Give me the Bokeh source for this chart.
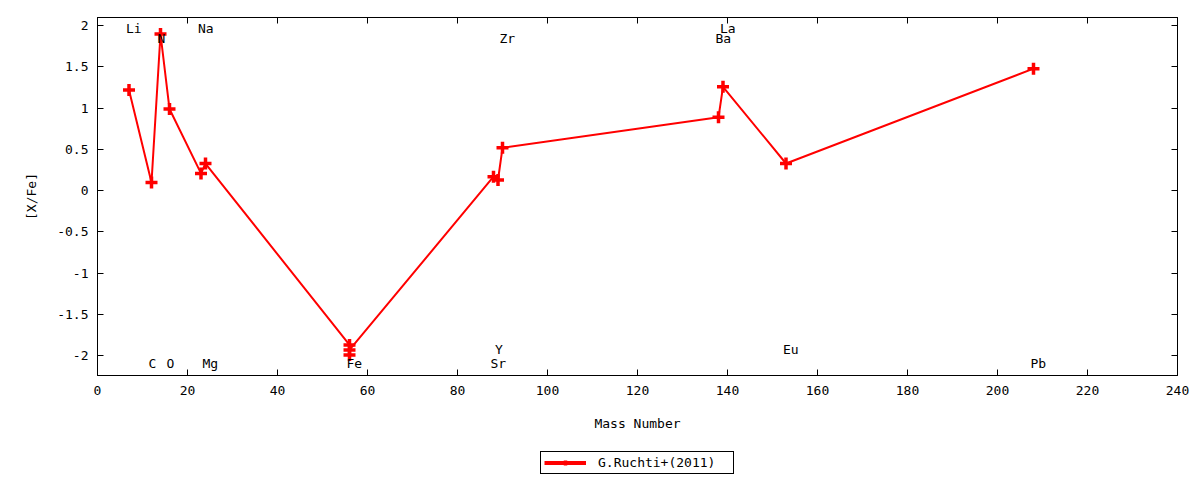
from bokeh.core.properties import value
from bokeh.embed import file_html
from bokeh.layouts import column
from bokeh.models import (
    ColumnDataSource,
    CustomJSTickFormatter,
    FixedTicker,
    Legend,
    LegendItem,
    LinearAxis,
    Range1d,
)
from bokeh.plotting import figure
from bokeh.resources import INLINE

MONO = "DejaVu Sans Mono"

# G.Ruchti+(2011) abundances, [X/Fe] against mass number
mass = [7, 12, 14, 16, 23, 24, 56, 56, 56, 88, 89, 90, 138, 139, 153, 208]
xfe = [1.22, 0.10, 1.90, 0.99, 0.21, 0.33, -1.87, -1.99, -1.93,
       0.17, 0.13, 0.52, 0.89, 1.26, 0.33, 1.48]

# element labels
elem = ["Li", "C", "N", "O", "Na", "Mg", "Fe", "Sr", "Y", "Zr", "Ba", "La", "Eu", "Pb"]
elem_x = [7, 12, 14, 16, 23, 24, 56, 88, 89, 90, 138, 139, 153, 208]
elem_y = [1.97, -2.1, 1.85, -2.1, 1.97, -2.1, -2.1, -2.1, -1.93, 1.84, 1.85, 1.97, -1.93, -2.1]

x_ticks = [0, 20, 40, 60, 80, 100, 120, 140, 160, 180, 200, 220, 240]
y_ticks = [-2, -1.5, -1, -0.5, 0, 0.5, 1, 1.5, 2]

SERIES = "G.Ruchti+(2011)"
LINE = dict(line_color="red", line_width=2)
MARK = dict(marker="cross", size=12, line_color="red", line_width=3.5)

p = figure(width=1200, height=440,
           x_range=Range1d(0, 240), y_range=Range1d(-2.24, 2.1),
           output_backend="svg", toolbar_location=None,
           min_border_left=97, min_border_right=23,
           min_border_top=17, min_border_bottom=65)
p.grid.visible = False
p.outline_line_color = "black"
p.outline_line_alpha = 1.0

label_fmt = CustomJSTickFormatter(code="return String(tick);")
blank_fmt = CustomJSTickFormatter(code="return '';")


def style_axis(ax, ticks, fmt):
    ax.ticker = FixedTicker(ticks=ticks)
    ax.formatter = fmt
    ax.major_tick_in = 6
    ax.major_tick_out = 0
    ax.minor_tick_in = 0
    ax.minor_tick_out = 0
    ax.axis_line_color = "black"
    ax.major_tick_line_color = "black"
    ax.major_label_text_font = MONO
    ax.major_label_text_font_size = "13px"
    ax.major_label_text_color = "black"
    ax.axis_label_text_font = MONO
    ax.axis_label_text_font_size = "13px"
    ax.axis_label_text_font_style = "normal"
    ax.axis_label_text_color = "black"


style_axis(p.xaxis[0], x_ticks, label_fmt)
p.xaxis.axis_label = "Mass Number"
p.xaxis.major_label_standoff = 10
p.xaxis.axis_label_standoff = 18

style_axis(p.yaxis[0], y_ticks, label_fmt)
p.yaxis.axis_label = "[X/Fe]"
p.yaxis.major_label_standoff = 9
p.yaxis.axis_label_standoff = 15

top = LinearAxis()
style_axis(top, x_ticks, blank_fmt)
p.add_layout(top, "above")
right = LinearAxis()
style_axis(right, y_ticks, blank_fmt)
p.add_layout(right, "right")

src = ColumnDataSource(dict(x=mass, y=xfe))
p.line("x", "y", source=src, **LINE)
p.scatter("x", "y", source=src, **MARK)

lab = ColumnDataSource(dict(x=elem_x, y=elem_y, t=elem))
p.text("x", "y", text="t", source=lab, x_offset=-3,
       text_font=value(MONO), text_font_size="13px", text_color="black",
       text_align="left", text_baseline="middle")

# legend strip below the chart (key only, the series sits out of view)
leg = figure(width=1200, height=40,
             x_range=Range1d(0, 240), y_range=Range1d(10, 11),
             output_backend="svg", toolbar_location=None,
             x_axis_location=None, y_axis_location=None,
             min_border_left=97, min_border_right=23,
             min_border_top=0, min_border_bottom=0)
leg.grid.visible = False
leg.outline_line_color = None
ln = leg.line("x", "y", source=src, line_color="red", line_width=4)
sc = leg.scatter("x", "y", source=src, **MARK)

legend = Legend(items=[LegendItem(label=SERIES, renderers=[ln, sc])],
                location="bottom", orientation="horizontal")
legend.label_text_font = MONO
legend.label_text_font_size = "13px"
legend.label_text_color = "black"
legend.label_standoff = 12
legend.label_width = 132
legend.glyph_width = 42
legend.glyph_height = 13
legend.label_height = 13
legend.padding = 3
legend.spacing = 0
legend.margin = 6
legend.border_line_color = "black"
legend.border_line_width = 1
legend.border_line_alpha = 1.0
legend.background_fill_color = "white"
legend.background_fill_alpha = 1.0
leg.add_layout(legend)

open("out.html", "w").write(file_html(column(p, leg, spacing=0), INLINE))
